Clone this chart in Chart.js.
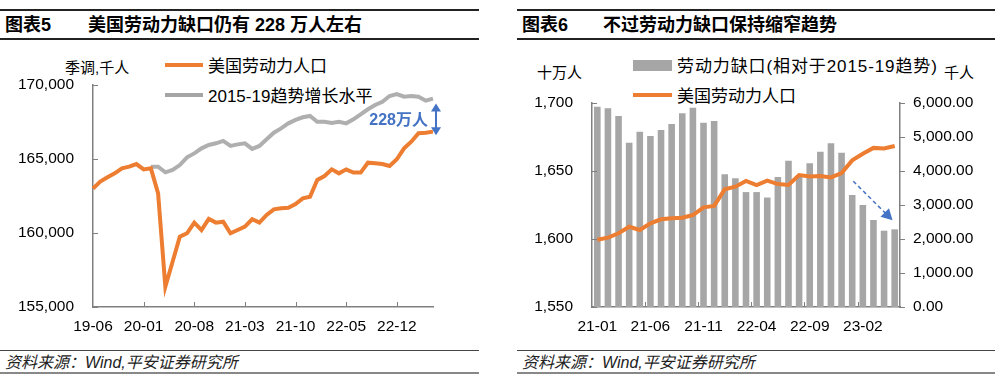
<!DOCTYPE html>
<html>
<head>
<meta charset="utf-8">
<script src="https://cdn.jsdelivr.net/npm/chart.js@4.4.1/dist/chart.umd.min.js"></script>
<style>
  body { margin: 0; width: 1000px; height: 382px; position: relative; overflow: hidden; background: #fff;
         font-family: "Liberation Sans", "Noto Sans CJK SC", sans-serif; color: #000; }
  canvas { position: absolute; top: 0; }
  .t { position: absolute; white-space: nowrap; line-height: 1; transform: translateY(-50%); }
  .rule { position: absolute; }
  .sw { position: absolute; }
</style>
</head>
<body>
<!-- chart 5 frame -->
<div class="rule" style="left:0;top:9px;width:479px;height:1.5px;background:#222"></div>
<div class="t" style="left:5px;top:25px;font-size:18px;font-weight:bold">图表5</div>
<div class="t" style="left:88px;top:25px;font-size:18px;font-weight:bold">美国劳动力缺口仍有 228 万人左右</div>
<div class="rule" style="left:0;top:38px;width:479px;height:2px;background:#222"></div>
<div class="t" style="left:65px;top:67px;font-size:15px">季调,千人</div>
<div class="sw" style="left:165px;top:63px;width:38px;height:4px;background:#ED7D31"></div>
<div class="t" style="left:208px;top:66px;font-size:17px">美国劳动力人口</div>
<div class="sw" style="left:165px;top:93px;width:38px;height:4px;background:#A5A5A5"></div>
<div class="t" style="left:208px;top:96px;font-size:17px">2015-19趋势增长水平</div>
<div class="rule" style="left:0;top:350px;width:479px;height:1px;background:#444"></div>
<div class="t" style="left:5px;top:363px;font-size:16px;font-style:italic;color:#222">资料来源：Wind,平安证券研究所</div>
<div class="rule" style="left:0;top:372px;width:479px;height:2px;background:#888"></div>

<!-- chart 6 frame -->
<div class="rule" style="left:517px;top:9px;width:478px;height:1.5px;background:#222"></div>
<div class="t" style="left:522px;top:25px;font-size:18px;font-weight:bold">图表6</div>
<div class="t" style="left:603px;top:25px;font-size:18px;font-weight:bold">不过劳动力缺口保持缩窄趋势</div>
<div class="rule" style="left:517px;top:38px;width:478px;height:2px;background:#222"></div>
<div class="t" style="left:537px;top:72px;font-size:15px">十万人</div>
<div class="t" style="left:944px;top:72px;font-size:15px">千人</div>
<div class="sw" style="left:633px;top:60px;width:39px;height:11px;background:#A6A6A6"></div>
<div class="t" style="left:677px;top:66px;font-size:17px;letter-spacing:0.9px">劳动力缺口(相对于2015-19趋势)</div>
<div class="sw" style="left:633px;top:93px;width:39px;height:4px;background:#ED7D31"></div>
<div class="t" style="left:677px;top:96px;font-size:17px">美国劳动力人口</div>
<div class="rule" style="left:517px;top:350px;width:478px;height:1px;background:#444"></div>
<div class="t" style="left:522px;top:363px;font-size:16px;font-style:italic;color:#222">资料来源：Wind,平安证券研究所</div>
<div class="rule" style="left:517px;top:372px;width:478px;height:2px;background:#888"></div>

<canvas id="left" width="500" height="382" style="left:0"></canvas>
<canvas id="right" width="500" height="382" style="left:500px"></canvas>

<script>
const FONT = "'Liberation Sans', 'Noto Sans CJK SC', sans-serif";
const BLUE = '#4472C4';
const AXIS = '#808080';

// 图表5: 美国劳动力人口 vs 2015-19趋势 (千人, 季调)
const leftMonths = [
  '19-06','19-07','19-08','19-09','19-10','19-11','19-12',
  '20-01','20-02','20-03','20-04','20-05','20-06','20-07','20-08','20-09','20-10','20-11','20-12',
  '21-01','21-02','21-03','21-04','21-05','21-06','21-07','21-08','21-09','21-10','21-11','21-12',
  '22-01','22-02','22-03','22-04','22-05','22-06','22-07','22-08','22-09','22-10','22-11','22-12',
  '23-01','23-02','23-03','23-04','23-05'
];
const laborForce = [
  163000, 163470, 163760, 164030, 164370, 164480, 164660,
  164300, 164370, 162680, 156370, 158060, 159750, 159980, 160700, 160200, 160950, 160700, 160760,
  159980, 160200, 160430, 160930, 160700, 161220, 161600, 161670, 161710, 161960, 162340, 162450,
  163580, 163850, 164300, 164030, 164300, 164080, 164080, 164750, 164710, 164660, 164530, 164980,
  165720, 166170, 166740, 166780, 166850
];
const trendLevel = [
  null, null, null, null, null, null, null,
  null, 164480, 164480, 164100, 164260, 164590, 165110, 165380, 165720, 165950, 166060, 166220,
  165880, 165990, 166060, 165680, 165880, 166330, 166780, 167070, 167410, 167640, 167820, 167910,
  167520, 167520, 167430, 167520, 167410, 167680, 168020, 168360, 168650, 168870, 169260, 169390,
  169210, 169260, 169210, 168940, 169080
];

// 图表6: 劳动力缺口 (千人) 与 美国劳动力人口 (十万人)
const rightMonths = [
  '21-01','21-02','21-03','21-04','21-05','21-06','21-07','21-08','21-09','21-10','21-11','21-12',
  '22-01','22-02','22-03','22-04','22-05','22-06','22-07','22-08','22-09','22-10','22-11','22-12',
  '23-01','23-02','23-03','23-04','23-05'
];
const laborGap = [
  5890, 5843, 5618, 4833, 5157, 5030, 5206, 5382, 5696, 5863, 5422, 5471,
  3902, 3784, 3380, 3380, 3220, 3820, 4304, 3860, 4225, 4569, 4814, 4539,
  3294, 3000, 2559, 2245, 2284
];
const laborForce2 = [
  1599.5, 1601, 1604.2, 1609, 1606.6, 1611.5, 1614.5, 1615.2, 1615.7, 1617.6, 1623.3, 1624.3,
  1636.5, 1638.5, 1642.7, 1639.7, 1642.9, 1640.4, 1639.7, 1647, 1646, 1646.4, 1645.3, 1648.5,
  1657.8, 1662.7, 1667, 1666.6, 1668.4
];

Chart.defaults.font.family = FONT;
Chart.defaults.font.size = 15.5;
Chart.defaults.color = '#000';

function head(ctx, x, y, dx, dy, len, half) {
  const l = Math.hypot(dx, dy), ux = dx / l, uy = dy / l;
  ctx.beginPath();
  ctx.moveTo(x, y);
  ctx.lineTo(x - ux * len - uy * half, y - uy * len + ux * half);
  ctx.lineTo(x - ux * len + uy * half, y - uy * len - ux * half);
  ctx.closePath();
  ctx.fill();
}

const leftMarks = {
  id: 'leftMarks',
  afterDraw(chart) {
    const { ctx, chartArea: a, scales: { x, y } } = chart;
    ctx.save();
    ctx.strokeStyle = AXIS;
    ctx.lineWidth = 1;
    ctx.beginPath();
    y.ticks.forEach(t => {
      const py = Math.round(y.getPixelForValue(t.value)) + 0.5;
      ctx.moveTo(a.left, py); ctx.lineTo(a.left + 5, py);
    });
    leftMonths.forEach((m, i) => {
      if (i % 7 === 0 && i > 0) {
        const px = Math.round(x.getPixelForValue(i)) + 0.5;
        ctx.moveTo(px, a.bottom); ctx.lineTo(px, a.bottom - 5);
      }
    });
    ctx.stroke();

    // 缺口标注
    const ax = x.getPixelForValue(leftMonths.length - 1) + 3;
    const y1 = y.getPixelForValue(168750), y2 = y.getPixelForValue(166600);
    ctx.strokeStyle = BLUE; ctx.fillStyle = BLUE; ctx.lineWidth = 2;
    ctx.beginPath(); ctx.moveTo(ax, y1 + 6); ctx.lineTo(ax, y2 - 6); ctx.stroke();
    head(ctx, ax, y1, 0, -1, 8, 5);
    head(ctx, ax, y2, 0, 1, 8, 5);
    ctx.font = 'bold 16px ' + FONT;
    ctx.textAlign = 'right'; ctx.textBaseline = 'middle';
    ctx.fillText('228万人', ax - 8, y.getPixelForValue(167570));
    ctx.restore();
  }
};

new Chart(document.getElementById('left'), {
  type: 'line',
  data: {
    labels: leftMonths,
    datasets: [
      { data: laborForce, borderColor: '#ED7D31', borderWidth: 4, pointRadius: 0, tension: 0 },
      { data: trendLevel, borderColor: '#AFAFAF', borderWidth: 4, pointRadius: 0, tension: 0 }
    ]
  },
  options: {
    responsive: false,
    animation: false,
    locale: 'en-US',
    layout: { padding: { left: 0, right: 67, top: 85, bottom: 45 } },
    plugins: { legend: { display: false }, tooltip: { enabled: false } },
    scales: {
      x: {
        offset: false,
        grid: { display: false, drawTicks: false },
        border: { color: AXIS, width: 1.5 },
        ticks: { autoSkip: false, maxRotation: 0, padding: 10,
                 callback: (v, i) => i % 7 === 0 ? leftMonths[i] : '' },
        afterFit: s => { s.height = 30; }
      },
      y: {
        min: 155000, max: 170000,
        grid: { display: false, drawTicks: false },
        border: { color: AXIS, width: 1.5 },
        ticks: { stepSize: 5000, padding: 19 },
        afterFit: s => { s.width = 93; }
      }
    }
  },
  plugins: [leftMarks]
});

const rightMarks = {
  id: 'rightMarks',
  afterDraw(chart) {
    const { ctx, chartArea: a, scales: { x, y, y1 } } = chart;
    ctx.save();
    ctx.strokeStyle = AXIS;
    ctx.lineWidth = 1;
    ctx.beginPath();
    y.ticks.forEach(t => {
      const py = Math.round(y.getPixelForValue(t.value)) + 0.5;
      ctx.moveTo(a.left, py); ctx.lineTo(a.left + 5, py);
    });
    y1.ticks.forEach(t => {
      const py = Math.round(y1.getPixelForValue(t.value)) + 0.5;
      ctx.moveTo(a.right, py); ctx.lineTo(a.right + 5, py);
    });
    rightMonths.forEach((m, i) => {
      if (i % 5 === 0 && i > 0) {
        const px = Math.round((x.getPixelForValue(i - 1) + x.getPixelForValue(i)) / 2) + 0.5;
        ctx.moveTo(px, a.bottom); ctx.lineTo(px, a.bottom - 5);
      }
    });
    ctx.stroke();

    // 缩窄趋势箭头
    const sx = x.getPixelForValue(24.1), sy = y1.getPixelForValue(3700);
    const ex = x.getPixelForValue(27.8), ey = y1.getPixelForValue(2550);
    ctx.strokeStyle = BLUE; ctx.fillStyle = BLUE; ctx.lineWidth = 1.5;
    ctx.setLineDash([4, 3]);
    const dx = ex - sx, dy = ey - sy, l = Math.hypot(dx, dy);
    ctx.beginPath(); ctx.moveTo(sx, sy); ctx.lineTo(ex - dx / l * 9, ey - dy / l * 9); ctx.stroke();
    ctx.setLineDash([]);
    head(ctx, ex, ey, dx, dy, 11, 6);
    ctx.restore();
  }
};

new Chart(document.getElementById('right'), {
  data: {
    labels: rightMonths,
    datasets: [
      { type: 'line', data: laborForce2, yAxisID: 'y', borderColor: '#ED7D31', borderWidth: 4,
        pointRadius: 0, tension: 0, order: 0 },
      { type: 'bar', data: laborGap, yAxisID: 'y1', backgroundColor: '#A6A6A6',
        barPercentage: 0.62, categoryPercentage: 1, order: 1 }
    ]
  },
  options: {
    responsive: false,
    animation: false,
    locale: 'en-US',
    layout: { padding: { left: 0, right: 0, top: 103, bottom: 45 } },
    plugins: { legend: { display: false }, tooltip: { enabled: false } },
    scales: {
      x: {
        offset: true,
        grid: { display: false, drawTicks: false },
        border: { color: AXIS, width: 1.5 },
        ticks: { autoSkip: false, maxRotation: 0, padding: 10,
                 callback: (v, i) => i % 5 === 0 ? rightMonths[i] : '' },
        afterFit: s => { s.height = 30; }
      },
      y: {
        position: 'left',
        min: 1550, max: 1700,
        grid: { display: false, drawTicks: false },
        border: { color: AXIS, width: 1.5 },
        ticks: { stepSize: 50, padding: 19 },
        afterFit: s => { s.width = 92; }
      },
      y1: {
        position: 'right',
        min: 0, max: 6000,
        grid: { display: false, drawTicks: false },
        border: { color: AXIS, width: 1.5 },
        ticks: { stepSize: 1000, padding: 13,
                 callback: v => v.toLocaleString('en-US', { minimumFractionDigits: 2, maximumFractionDigits: 2 }) },
        afterFit: s => { s.width = 100; }
      }
    }
  },
  plugins: [rightMarks]
});
</script>
</body>
</html>
